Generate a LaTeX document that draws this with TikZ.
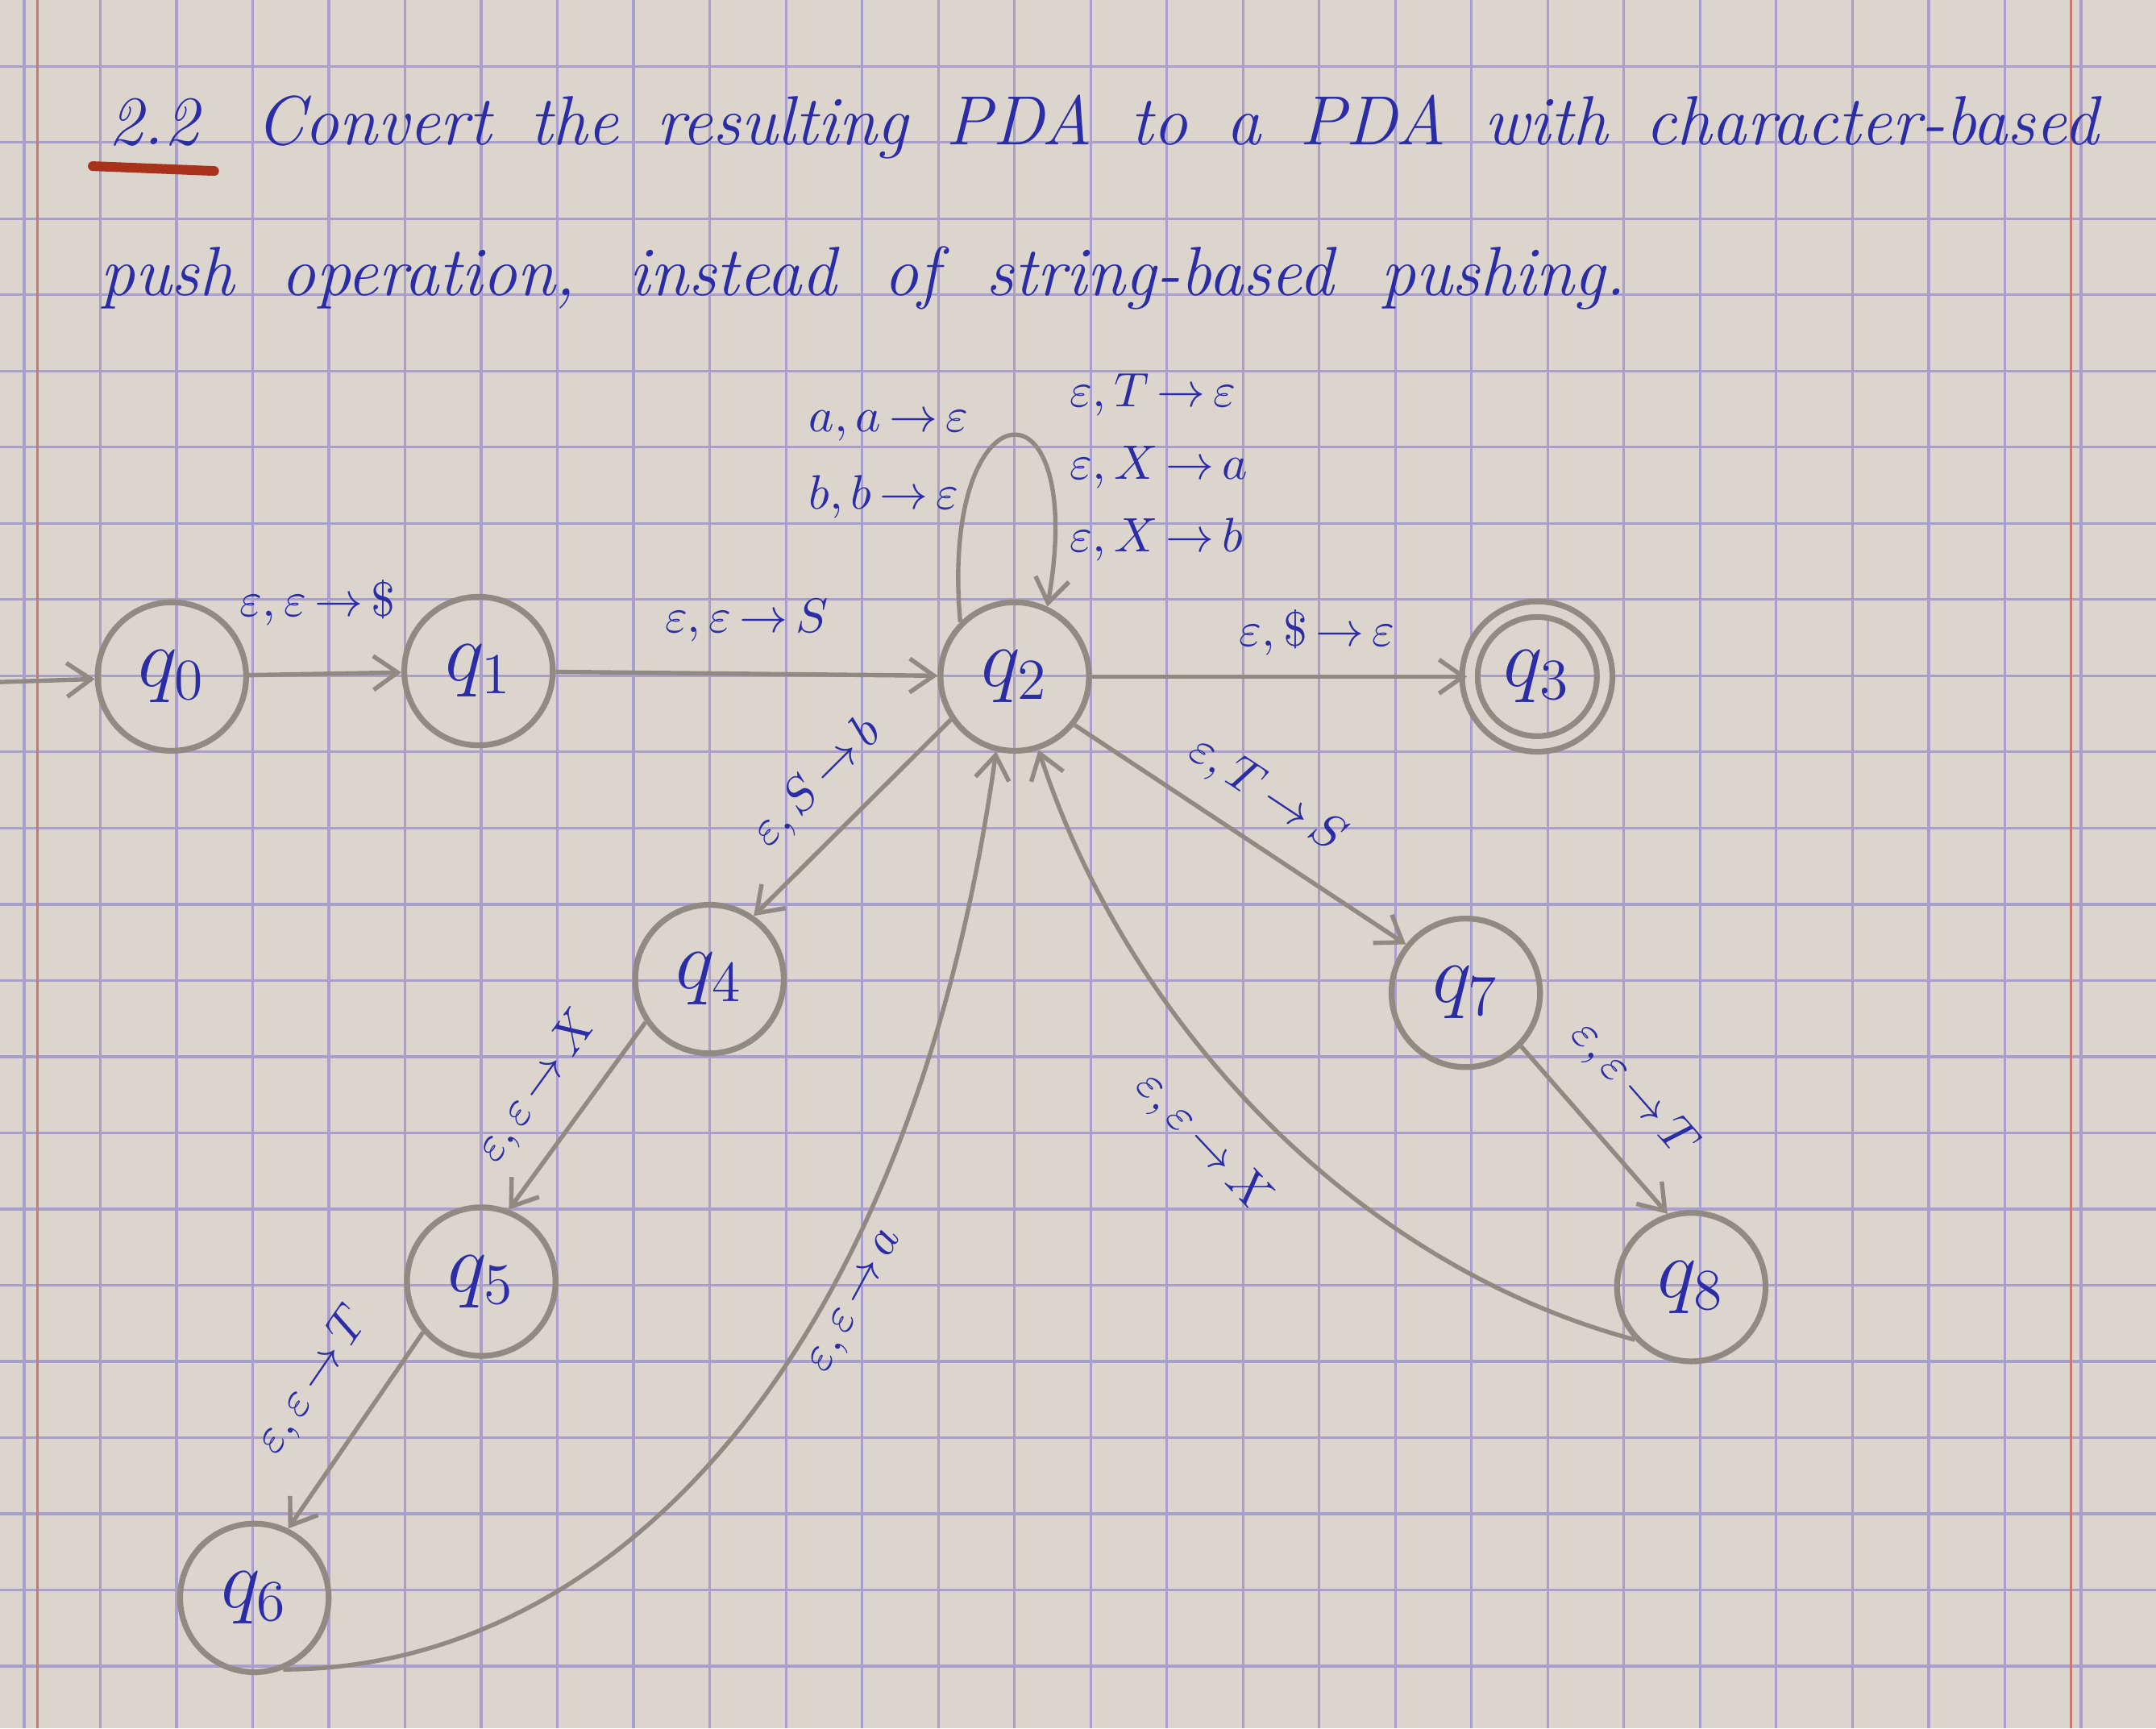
\documentclass[tikz,border=0pt]{standalone}
\usepackage{tikz}
\usepackage{xcolor}
\usetikzlibrary{positioning, arrows.meta}
\definecolor{paper}{HTML}{DBD5CE}
\definecolor{gridc}{HTML}{A89FCC}
\definecolor{pencil}{HTML}{8F8A82}
\definecolor{ink}{HTML}{2B2DA6}
\definecolor{marginc}{HTML}{C97A6E}
\definecolor{redpen}{HTML}{A8321A}
\newcommand{\ptrans}[3]{$#1,#2\,{\to}\,#3$}

\begin{document}
\begin{tikzpicture}[
    state/.style={circle, draw=pencil, line width=1.2pt, minimum size=1.08cm,
                  inner sep=0pt, text=ink, font=\LARGE},
    accept/.style={state, double=paper, double distance=2pt, minimum size=0.98cm},
    arrow/.style={-{Straight Barb[length=5pt, width=7pt]}, pencil, line width=0.9pt},
    lab/.style={text=ink, font=\normalsize, inner sep=1pt},
    title/.style={text=ink, font=\Large\itshape, inner sep=0pt},
    gridline/.style={gridc, line width=0.55pt}
  ]
    % squared paper
    \fill[paper] (0,0) rectangle (15.68,-12.57);
    \useasboundingbox (0,0) rectangle (15.68,-12.57);
    \draw[gridline, shift={(0.176,-0.482)}, step=0.554] (-0.176,0.482) grid (15.504,-12.088);
    \draw[marginc, line width=0.5pt] (0.27,0) -- (0.27,-12.57);
    \draw[marginc, line width=0.5pt] (15.06,0) -- (15.06,-12.57);

    % exercise text
    \node[title, anchor=base west] (num) at (0.78,-1.05) {2.2};
    \node[title, base right=0.4cm of num] (head1)
        {\makebox[13.4cm][s]{Convert the resulting PDA to a PDA with character-based}};
    \node[title, anchor=base west] (head2) at (0.72,-2.15)
        {\makebox[11.1cm][s]{push operation, instead of string-based pushing.}};
    \draw[redpen, line width=2pt, line cap=round]
        ([xshift=-3pt, yshift=-4pt]num.south west) -- ([xshift=3pt, yshift=-5pt]num.south east);

    % states
    \node[state] (q0) at (1.25,-4.92) {$q_0$};
    \node[state] (q1) at (3.48,-4.88) {$q_1$};
    \node[state] (q2) at (7.38,-4.92) {$q_2$};
    \node[accept] (q3) at (11.18,-4.92) {$q_3$};
    \node[state] (q4) at (5.16,-7.12) {$q_4$};
    \node[state] (q5) at (3.50,-9.32) {$q_5$};
    \node[state] (q6) at (1.85,-11.62) {$q_6$};
    \node[state] (q7) at (10.66,-7.22) {$q_7$};
    \node[state] (q8) at (12.30,-9.36) {$q_8$};
    \coordinate (start) at (0,-4.96);

    % transitions
    \draw[arrow] (start) -- (q0);
    \draw[arrow] (q0) -- node[lab, above=0.3cm, pos=0.45] {\ptrans{\varepsilon}{\varepsilon}{\$}} (q1);
    \draw[arrow] (q1) -- node[lab, above=0.18cm] {\ptrans{\varepsilon}{\varepsilon}{S}} (q2);
    \draw[arrow] (q2) -- node[lab, above=0.1cm, pos=0.6] {\ptrans{\varepsilon}{\$}{\varepsilon}} (q3);
    \draw[arrow] (q2.135) .. controls +(95:1.75) and +(80:1.75) .. (q2.65);
    \node[lab, anchor=west, align=left] (loopL) at (5.84,-3.38)
        {\ptrans{a}{a}{\varepsilon}\\[4pt]\ptrans{b}{b}{\varepsilon}};
    \node[lab, anchor=west, align=left] (loopR) at (7.74,-3.40)
        {\ptrans{\varepsilon}{T}{\varepsilon}\\[3pt]\ptrans{\varepsilon}{X}{a}\\[3pt]\ptrans{\varepsilon}{X}{b}};
    \draw[arrow] (q2.214) -- node[lab, sloped, above=0.15cm] {\ptrans{\varepsilon}{S}{b}} (q4.55);
    \draw[arrow] (q4.214) -- node[lab, sloped, above=0.15cm] {\ptrans{\varepsilon}{\varepsilon}{X}} (q5.69);
    \draw[arrow] (q5.221) -- node[lab, sloped, above=0.25cm, pos=0.43] {\ptrans{\varepsilon}{\varepsilon}{T}} (q6.64);
    \draw[arrow] (q6.-68) .. controls +(0:2.3) and +(-98:4.6)
        .. node[lab, sloped, below=0.06cm, pos=0.65] {\ptrans{\varepsilon}{\varepsilon}{a}} (q2.-104);
    \draw[arrow] (q2.-39) -- node[lab, sloped, above=0.14cm] {\ptrans{\varepsilon}{T}{S}} (q7.141);
    \draw[arrow] (q7.-44) -- node[lab, sloped, above=0.2cm, pos=0.48] {\ptrans{\varepsilon}{\varepsilon}{T}} (q8.108);
    \draw[arrow] (q8.-137) .. controls +(165:2.1) and +(-72:2.1)
        .. node[lab, sloped, below=0.24cm, pos=0.53] {\ptrans{\varepsilon}{\varepsilon}{X}} (q2.-72);
  \end{tikzpicture}
\end{document}
